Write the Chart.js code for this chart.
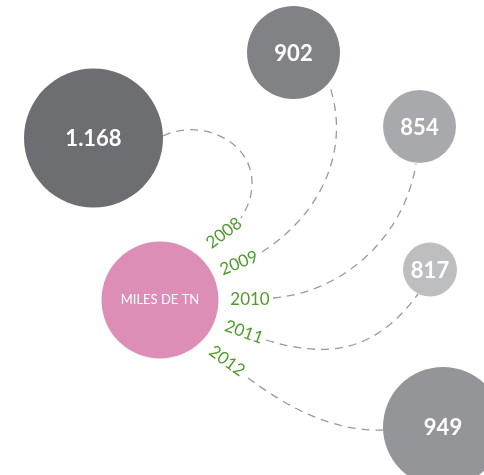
<!DOCTYPE html>
<html>
<head>
<meta charset="utf-8">
<script src="https://cdn.jsdelivr.net/npm/chart.js@4"></script>
<style>
html,body{margin:0;padding:0;background:#fff;}
#wrap{width:484px;height:475px;position:relative;}
</style>
</head>
<body>
<div id="wrap"><canvas id="c"></canvas></div>
<script>
// ---- data ----
const categories = ['2008', '2009', '2010', '2011', '2012'];
const values = [1168, 902, 854, 817, 949];
const valueLabels = ['1.168', '902', '854', '817', '949'];
const hubLabel = 'MILES DE TN';

// ---- layout & style (not data) ----
const bubbleLayout = [
  {x: 93.5, y: 138, r: 69.5},
  {x: 293.5, y: 52.5, r: 46.5},
  {x: 419.5, y: 126.5, r: 36.5},
  {x: 430, y: 269.5, r: 27},
  {x: 443, y: 427, r: 60}
];
const bubbleColors = ['#6d6e71', '#808285', '#a7a9ac', '#bcbec0', '#939598'];
const hubLayout = {x: 160, y: 300, r: 58.5};
const hubColor = '#dc8eb6';
const yearLabelLayout = [
  {x: 224, y: 233, angle: -37},
  {x: 239, y: 263, angle: -22},
  {x: 250, y: 300, angle: 0},
  {x: 244, y: 332, angle: 20},
  {x: 227, y: 361, angle: 36}
];
// connector paths: start point followed by cubic bezier triples
const connectorPaths = [
  [[163,136],[200,118],[252,140],[252,183],[252,198],[247,208],[241,218]],
  [[262,252],[320,215],[352,150],[329,84]],
  [[273,298],[344,292],[404,237],[416,164]],
  [[266,340],[326,358],[374,354],[418,294]],
  [[248,378],[285,405],[330,432],[384,430]]
];

const connectorPlugin = {
  id: 'connectors',
  beforeDatasetsDraw(chart) {
    const {ctx, scales: {x, y}} = chart;
    ctx.save();
    ctx.strokeStyle = '#98999c';
    ctx.lineWidth = 1.3;
    ctx.setLineDash([8, 6]);
    connectorPaths.forEach(path => {
      const P = path.map(p => [x.getPixelForValue(p[0]), y.getPixelForValue(p[1])]);
      ctx.beginPath();
      ctx.moveTo(P[0][0], P[0][1]);
      for (let i = 1; i + 2 < P.length; i += 3) {
        ctx.bezierCurveTo(P[i][0], P[i][1], P[i+1][0], P[i+1][1], P[i+2][0], P[i+2][1]);
      }
      ctx.stroke();
    });
    ctx.restore();
  },
  afterDatasetsDraw(chart) {
    const {ctx, scales: {x, y}} = chart;
    ctx.save();
    ctx.textAlign = 'center';
    ctx.textBaseline = 'middle';
    // value labels
    ctx.fillStyle = '#ffffff';
    ctx.font = 'bold 22px Lato';
    const meta = chart.getDatasetMeta(0);
    meta.data.forEach((el, i) => {
      ctx.fillText(valueLabels[i], el.x, el.y + 1);
    });
    // hub label
    const hubEl = chart.getDatasetMeta(1).data[0];
    ctx.font = '13px Lato';
    ctx.fillText(hubLabel, hubEl.x, hubEl.y);
    // year labels
    ctx.fillStyle = '#4f9a2c';
    ctx.font = '17px Lato';
    categories.forEach((c, i) => {
      const L = yearLabelLayout[i];
      ctx.save();
      ctx.translate(x.getPixelForValue(L.x), y.getPixelForValue(L.y));
      ctx.rotate(L.angle * Math.PI / 180);
      ctx.fillText(c, 0, 0);
      ctx.restore();
    });
    ctx.restore();
  }
};

const bubbleData = values.map((v, i) => ({
  x: bubbleLayout[i].x, y: bubbleLayout[i].y, r: bubbleLayout[i].r, v: v
}));

new Chart(document.getElementById('c'), {
  type: 'bubble',
  data: {
    datasets: [
      {
        label: 'Miles de TN',
        data: bubbleData,
        backgroundColor: bubbleColors,
        borderWidth: 0,
        clip: false
      },
      {
        label: hubLabel,
        data: [{x: hubLayout.x, y: hubLayout.y, r: hubLayout.r}],
        backgroundColor: hubColor,
        borderWidth: 0,
        clip: false
      }
    ]
  },
  options: {
    responsive: true,
    maintainAspectRatio: false,
    animation: false,
    events: [],
    layout: {padding: 0, autoPadding: false},
    scales: {
      x: {type: 'linear', min: 0, max: 484, display: false},
      y: {type: 'linear', min: 0, max: 475, reverse: true, display: false}
    },
    plugins: {
      legend: {display: false},
      tooltip: {enabled: false}
    }
  },
  plugins: [connectorPlugin]
});
</script>
</body>
</html>
